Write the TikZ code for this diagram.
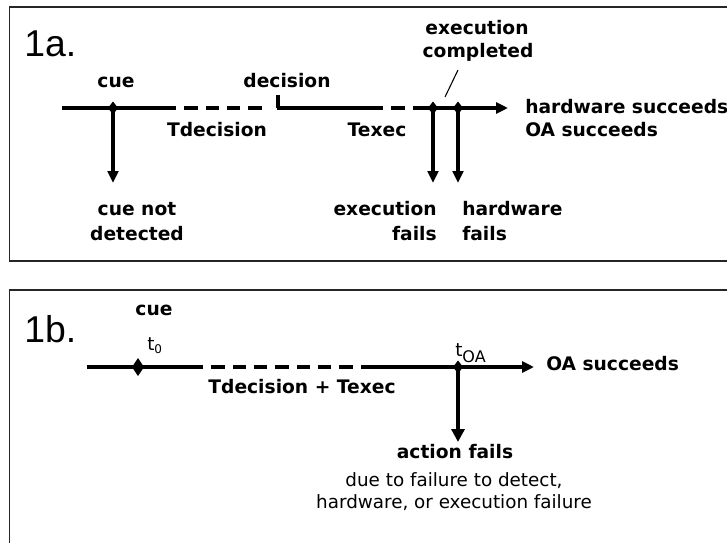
\documentclass[tikz,border=0pt]{standalone}
\usepackage{fontspec}
\setmainfont{DejaVu Sans}
\newfontfamily\numfont{Liberation Sans}
\usetikzlibrary{arrows.meta}
\newcommand\mydiamond[3]{\fill (#1) ++(0,-#3) -- ++(#2,#3) -- ++(-#2,#3) -- ++(-#2,-#3) -- cycle;}
\begin{document}
\begin{tikzpicture}[x=0.75pt,y=-0.75pt,
 lbl/.style={font=\fontsize{14}{16}\selectfont\bfseries, inner sep=0pt, anchor=base},
 sml/.style={font=\fontsize{13.75}{16}\selectfont, inner sep=0pt, anchor=base},
 bignum/.style={font=\fontsize{28}{30}\selectfont\numfont, inner sep=0pt, anchor=base west},
 tl/.style={line width=2.5pt},
 dsh/.style={line width=2.5pt, dash pattern=on 10pt off 6pt},
 tarrow/.style={line width=2.5pt, -{Triangle[length=9pt,width=8.25pt]}},
 down/.style={line width=3pt, -{Triangle[length=9pt,width=8pt]}},
 downb/.style={line width=3pt, -{Triangle[length=9.75pt,width=9.75pt]}},
 frame/.style={draw=black!85, line width=1pt}]
\useasboundingbox (0,0) rectangle (727,542);
\clip (0,0) rectangle (727,542);
% frames
\draw[frame] (9.5,7) rectangle (740,261);
\draw[frame] (9.5,290) rectangle (740,560);

% ---------- 1a ----------
\node[bignum] (t1a) at (24,57) {1a.};
\coordinate (a0) at (62,108);
\coordinate (acue) at (113,108);
\coordinate (ad1) at (163,108);
\coordinate (ad2) at (266,108);
\coordinate (adec) at (277.5,108);
\coordinate (adectop) at (277.5,95);
\coordinate (ae1) at (370,108);
\coordinate (ae2) at (415,108);
\coordinate (aex) at (433,108);
\coordinate (ahw) at (458,108);
\coordinate (aend) at (508,108);
\coordinate (acueD) at (113,183);
\coordinate (aexD) at (433,183);
\coordinate (ahwD) at (458,183);

\draw[tl] (a0) -- (ad1);
\draw[dsh] (ad1) -- (ad2);
\draw[line width=3pt] (adectop) -- (adec);
\draw[tl] (276.5,108) -- (ae1);
\draw[dsh] (ae1) -- (ae2);
\draw[tl] (ae2) -- (aex);
\draw[tarrow] (aex) -- (aend);
\draw[down] (acue) -- (acueD);
\draw[down] (aex) -- (aexD);
\draw[down] (ahw) -- (ahwD);
\mydiamond{acue}{5}{6.5}
\mydiamond{aex}{5}{6.5}
\mydiamond{ahw}{5}{6.5}

\node[lbl] (lcue) at (116,87) {cue};
\node[lbl] (ldec) at (287,87) {decision};
\node[lbl] (ltdec) at (217,136) {Tdecision};
\node[lbl] (ltex) at (377,136) {Texec};
\node[lbl] (lexc1) at (477,35) {execution};
\node[lbl] (lexc2) at (478,58) {completed};
\coordinate (sl1) at (458,70);
\coordinate (sl2) at (445,97);
\draw[line width=0.8pt] (sl1) -- (sl2);
\node[lbl, anchor=base west] (lhws) at (525,113) {hardware succeeds};
\node[lbl, anchor=base west] (loas) at (525,136) {OA succeeds};
\node[lbl] (lcnd1) at (137,215) {cue not};
\node[lbl] (lcnd2) at (137,240) {detected};
\node[lbl, anchor=base east] (lef1) at (437,215) {execution};
\node[lbl, anchor=base east] (lef2) at (437,240) {fails};
\node[lbl, anchor=base west] (lhf1) at (462,215) {hardware};
\node[lbl, anchor=base west] (lhf2) at (462,240) {fails};

% ---------- 1b ----------
\node[bignum] (t1b) at (24,342) {1b.};
\coordinate (b0) at (87,367);
\coordinate (bcue) at (138,367);
\coordinate (bd1) at (190,367);
\coordinate (bd2) at (369,367);
\coordinate (boa) at (458,367);
\coordinate (bend) at (534,367);
\coordinate (boaD) at (458,442);
\draw[tl] (b0) -- (bd1);
\draw[dsh] (bd1) -- (bd2);
\draw[tl] (bd2) -- (boa);
\draw[tarrow] (boa) -- (bend);
\draw[downb] (boa) -- (boaD);
\mydiamond{bcue}{6}{9}
\mydiamond{boa}{5}{6.5}

\node[lbl] (bcuel) at (154,315) {cue};
\node[sml, anchor=base west] (bt0) at (147,350) {t\raisebox{-2.5pt}{\fontsize{9}{10}\selectfont 0}};
\node[lbl] (btt) at (302,393) {Tdecision + Texec};
\node[sml, anchor=base west] (btoa) at (455,356) {t\raisebox{-4.5pt}{\fontsize{12}{13}\selectfont OA}};
\node[lbl, anchor=base west] (boas) at (546,370) {OA succeeds};
\node[lbl] (baf) at (455,458) {action fails};
\node[sml] (bdue1) at (454,486) {due to failure to detect,};
\node[sml] (bdue2) at (454,508) {hardware, or execution failure};
\end{tikzpicture}
\end{document}
